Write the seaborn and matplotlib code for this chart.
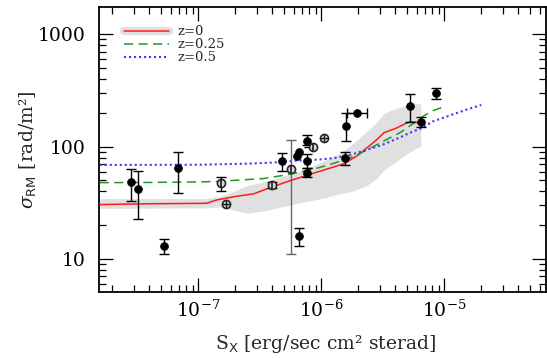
import numpy as np
import pandas as pd
import matplotlib
matplotlib.use("Agg")
import matplotlib.pyplot as plt
import seaborn as sns
from matplotlib.lines import Line2D
from matplotlib.ticker import LogLocator, FixedLocator, FixedFormatter, NullFormatter

# ---------------- data ----------------
# model curves: sigma_RM vs S_X
red_x = [1.58e-8, 3.98e-8, 1.17e-7, 1.41e-7, 2.0e-7, 2.82e-7, 3.8e-7, 5.6e-7, 9.1e-7,
         1.51e-6, 2.0e-6, 2.34e-6, 2.82e-6, 3.24e-6, 4.07e-6, 5.13e-6, 5.6e-6, 6.45e-6]
red_y = [30.5, 31.0, 31.3, 33.5, 36, 38, 43, 49.8, 59, 70, 84, 97, 115, 133, 146, 165, 166, 162]

green_x = [1.58e-8, 3.98e-8, 1.0e-7, 1.41e-7, 2.24e-7, 3.39e-7, 4.68e-7, 6.31e-7, 9.12e-7,
           1.26e-6, 1.7e-6, 2.34e-6, 3.16e-6, 4.37e-6, 5.62e-6, 6.92e-6, 8.13e-6, 1.0e-5]
green_y = [47.8, 48, 48.5, 49, 50.5, 52, 55, 58.5, 64, 71, 79, 93, 111, 133, 161, 190, 209, 227]

blue_x = [1.58e-8, 1.0e-7, 2.51e-7, 3.98e-7, 6.31e-7, 1.0e-6, 1.26e-6, 1.7e-6, 2.34e-6,
          3.16e-6, 4.37e-6, 5.62e-6, 6.31e-6, 8.13e-6, 1.12e-5, 1.51e-5, 2.0e-5]
blue_y = [68.7, 69, 70.5, 72, 75, 77, 79, 84, 93.5, 104, 121, 137, 143, 168, 190, 213, 235]

band_x = [1.58e-8, 1.12e-7, 1.51e-7, 2.51e-7, 3.55e-7, 5.01e-7, 7.08e-7, 1.0e-6, 1.41e-6,
          1.78e-6, 2.34e-6, 2.82e-6, 3.24e-6, 3.89e-6, 5.01e-6, 6.03e-6, 6.45e-6]
band_hi = [34.5, 34.5, 36, 45, 49, 55, 62, 73, 87, 105, 136, 165, 198, 215, 235, 242, 238]
band_lo = [28.2, 28.5, 29, 25.5, 27, 29.5, 32, 34.5, 38, 40, 45, 52, 62, 71, 87, 98, 100]

# observed clusters (filled)
obs_x = [2.84e-8, 3.26e-8, 5.24e-8, 6.9e-8, 4.8e-7, 6.33e-7, 6.56e-7, 6.64e-7, 7.62e-7,
         7.62e-7, 7.7e-7, 1.56e-6, 1.58e-6, 1.97e-6, 5.3e-6, 6.44e-6, 8.53e-6]
obs_y = [48, 42, 13.0, 65, 74.6, 82.6, 90.3, 16.0, 113, 74.6, 58.6, 78.9, 153, 201, 229, 166, 303]
obs_lo = [33, 22.9, 11.0, 38.9, 60.8, 82.6, 90.3, 13.1, 104, 64, 54, 68.2, 113, 201, 167, 151, 267]
obs_hi = [62.8, 60.8, 15.1, 90, 88.4, 82.6, 90.3, 19, 126, 85.5, 64, 90, 198, 201, 293, 183, 335]
obs_xlo = [2.84e-8, 3.26e-8, 5.24e-8, 6.9e-8, 4.8e-7, 6.33e-7, 6.56e-7, 6.64e-7, 7.62e-7,
           7.62e-7, 7.7e-7, 1.56e-6, 1.58e-6, 1.61e-6, 5.3e-6, 6.44e-6, 8.53e-6]
obs_xhi = [2.84e-8, 3.26e-8, 5.24e-8, 6.9e-8, 4.8e-7, 6.33e-7, 6.56e-7, 6.64e-7, 7.62e-7,
           7.62e-7, 7.7e-7, 1.56e-6, 1.58e-6, 2.34e-6, 5.3e-6, 6.44e-6, 8.53e-6]

# observed clusters (open)
open_x = [1.54e-7, 1.68e-7, 4.0e-7, 5.65e-7, 8.53e-7, 1.054e-6]
open_y = [47, 31, 45.6, 63, 100, 120]
open_lo = [40.4, 31, 43, 11.1, 100, 120]
open_hi = [54, 31, 48.5, 115, 100, 120]
open_xlo = [1.54e-7, 1.68e-7, 4.0e-7, 5.65e-7, 7.2e-7, 1.054e-6]
open_cross = [False, True, False, False, False, True]

legend_labels = ["z=0", "z=0.25", "z=0.5"]

# ---------------- style ----------------
sns.set_theme(style="ticks")
plt.rcParams["font.family"] = ["DejaVu Serif"]
plt.rcParams["mathtext.fontset"] = "dejavuserif"

fig = plt.figure(figsize=(5.47, 3.58), dpi=100)
ax = fig.add_axes([0.1817, 0.1835, 0.8165, 0.7978])
ax.set_xscale("log")
ax.set_yscale("log")

# band
ax.fill_between(band_x, band_lo, band_hi, color="#e0e0e0", lw=0, zorder=1)

curves = pd.concat([
    pd.DataFrame({"Sx": red_x, "sig": red_y, "z": legend_labels[0]}),
    pd.DataFrame({"Sx": green_x, "sig": green_y, "z": legend_labels[1]}),
    pd.DataFrame({"Sx": blue_x, "sig": blue_y, "z": legend_labels[2]}),
])
colors = {"z=0": "#ff1a1a", "z=0.25": "#1f9a1f", "z=0.5": "#3a3aff"}
styles = {"z=0": "-", "z=0.25": (0, (6, 3.5)), "z=0.5": (0, (1, 1.4))}
widths = {"z=0": 1.1, "z=0.25": 1.1, "z=0.5": 1.5}
for lab in legend_labels:
    sub = curves[curves["z"] == lab]
    sns.lineplot(data=sub, x="Sx", y="sig", ax=ax, color=colors[lab],
                 linestyle=styles[lab], lw=widths[lab], estimator=None,
                 sort=False, legend=False, zorder=3)

# filled points
ox = np.array(obs_x); oy = np.array(obs_y)
ylo = oy - np.array(obs_lo); yhi = np.array(obs_hi) - oy
xlo = ox - np.array(obs_xlo); xhi = np.array(obs_xhi) - ox
m = (ylo + yhi) > 0
ax.errorbar(ox[m], oy[m], yerr=[ylo[m], yhi[m]], fmt="none", ecolor="black",
            elinewidth=1.0, capsize=3.3, capthick=1.0, zorder=4)
mx = (xlo + xhi) > 0
ax.errorbar(ox[mx], oy[mx], xerr=[xlo[mx], xhi[mx]], fmt="none", ecolor="black",
            elinewidth=1.0, capsize=3.3, capthick=1.0, zorder=4)
sns.scatterplot(x=obs_x, y=obs_y, ax=ax, color="black", s=32, edgecolor="black",
                linewidth=0.5, zorder=5, legend=False)

# open points
px = np.array(open_x); py = np.array(open_y)
plo = py - np.array(open_lo); phi = np.array(open_hi) - py
pxl = px - np.array(open_xlo)
mo = (plo + phi) > 0
ecol = ["0.4" if (plo[i] + phi[i]) > 40 else "black" for i in range(len(px))]
for i in np.where(mo)[0]:
    ax.errorbar(px[i], py[i], yerr=[[plo[i]], [phi[i]]], fmt="none", ecolor=ecol[i],
                elinewidth=1.0, capsize=3.3, capthick=1.0, zorder=4)
for i in np.where(pxl > 0)[0]:
    ax.errorbar(px[i], py[i], xerr=[[pxl[i]], [0]], fmt="none", ecolor="black",
                elinewidth=1.0, capsize=0, zorder=4)
sns.scatterplot(x=open_x, y=open_y, ax=ax, color="0.85", s=34, edgecolor="0.15",
                linewidth=1.2, zorder=5, legend=False)
cx = [x for x, c in zip(open_x, open_cross) if c]
cy = [y for y, c in zip(open_y, open_cross) if c]
ax.scatter(cx, cy, marker="+", s=26, color="0.1", linewidth=1.0, zorder=6)
vx = [x for x, c in zip(open_x, open_cross) if not c]
vy = [y for y, c in zip(open_y, open_cross) if not c]
ax.scatter(vx, vy, marker="|", s=26, color="0.1", linewidth=1.2, zorder=6)

# axes
ax.set_xlim(1.57e-8, 6.73e-5)
ax.set_ylim(5.05, 1760)
ax.yaxis.set_major_locator(FixedLocator([10, 100, 1000]))
ax.yaxis.set_major_formatter(FixedFormatter(["10", "100", "1000"]))
ax.yaxis.set_minor_locator(LogLocator(base=10, subs=np.arange(2, 10)))
ax.yaxis.set_minor_formatter(NullFormatter())
ax.xaxis.set_major_locator(LogLocator(base=10, numticks=20))
ax.xaxis.set_minor_locator(LogLocator(base=10, subs=np.arange(2, 10), numticks=20))
ax.xaxis.set_minor_formatter(NullFormatter())
ax.tick_params(which="both", direction="in", top=True, right=True, colors="black",
               labelsize=13.5)
ax.tick_params(which="major", length=10, width=0.9)
ax.tick_params(which="minor", length=5, width=0.9)
ax.tick_params(axis="x", which="major", pad=5)
ax.tick_params(axis="y", which="major", pad=10)
for s in ax.spines.values():
    s.set_linewidth(1.3)
    s.set_color("black")

ax.set_xlabel(r"S$_{\mathsf{X}}$ [erg/sec cm² sterad]", fontsize=13.5)
ax.set_ylabel(r"$\sigma_{\mathsf{RM}}$ [rad/m²]", fontsize=13.5)
ax.xaxis.set_label_coords(0.507, -0.142)
ax.yaxis.set_label_coords(-0.1375, 0.5)

# legend
h0 = (Line2D([], [], color="#e0e0e0", lw=6),
      Line2D([], [], color=colors["z=0"], lw=1.1))
h1 = Line2D([], [], color=colors["z=0.25"], lw=1.1, linestyle=styles["z=0.25"])
h2 = Line2D([], [], color=colors["z=0.5"], lw=1.5, linestyle=styles["z=0.5"])
ax.legend([h0, h1, h2], legend_labels, loc="upper left", bbox_to_anchor=(0.056, 0.935),
          frameon=False, fontsize=9.5, handlelength=3.4, labelspacing=0.0,
          handletextpad=0.6, borderpad=0, borderaxespad=0)

fig.savefig("out.png", dpi=100)
